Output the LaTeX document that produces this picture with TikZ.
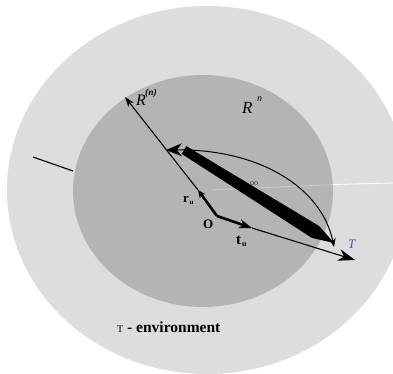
\documentclass[tikz,border=0pt]{standalone}
\usepackage{fontspec}
\setmainfont{Liberation Serif}
\usetikzlibrary{arrows.meta}
\definecolor{outerg}{RGB}{220,221,223}
\definecolor{innerg}{RGB}{179,180,182}
\definecolor{tblue}{RGB}{70,80,170}
\begin{document}
\begin{tikzpicture}[x=1pt,y=-1pt,
  lbl/.style={inner sep=0pt, anchor=base west},
  thinline/.style={line width=1.1pt, black},
  thickvec/.style={line width=2.6pt, black}]
\useasboundingbox (0,0) rectangle (393,373);
\begin{scope}
  \clip (0,0) rectangle (393,373);
  \fill[outerg] (207,190) ellipse [x radius=200, y radius=184];
\end{scope}
\fill[innerg] (203,191) ellipse [x radius=130, y radius=116];
% faint white line
\coordinate (W0) at (213,190);
\coordinate (W1) at (333,184.5);
\coordinate (W2) at (393,183);
\draw[white, line width=0.7pt, opacity=0.35] (W0) -- (W1);
\draw[white, line width=0.8pt] (W1) -- (W2);
% points
\coordinate (O) at (217,216);
\coordinate (ru) at (198,190);
\coordinate (Rn) at (125,97);
\coordinate (tu) at (252,228);
\coordinate (T) at (355,260);
\coordinate (L1) at (33,157);
\coordinate (L2) at (73,171);
\coordinate (A) at (166,150);
\coordinate (B) at (334,247);
% left line
\draw[line width=1.1pt] (L1) -- (L2);
% r_u and R^(n)
\draw[thinline, -{Stealth[length=10pt,width=7pt]}] (ru) -- (Rn);
\draw[thickvec, -{Stealth[length=8pt,width=7pt]}] (O) -- (ru);
% t_u and T
\draw[thinline, -{Stealth[length=17pt,width=12pt]}] (tu) -- (T);
\draw[thickvec, -{Stealth[length=13pt,width=9pt]}] (O) -- (tu);
% thick band
\fill[black] (181.6,153.8) -- (186.4,146.2) -- (319.3,226.1) -- (334,243) -- (311.9,237.9) -- cycle;
% arc
\draw[line width=1pt, {Stealth[length=16pt,width=13pt]}-{Stealth[length=9pt,width=7pt]}] (A) .. controls (260,149) and (322,188) .. (B);
% labels
\node[lbl, font=\fontsize{16}{16}\selectfont\itshape] (lRn) at (136,105) {R};
\node[lbl, font=\fontsize{9.5}{9.5}\selectfont\itshape\bfseries] (lRnsup) at (145,95) {(n)};
\node[lbl, font=\fontsize{17}{17}\selectfont\itshape] (lRN) at (242,113) {R};
\node[lbl, font=\fontsize{10}{10}\selectfont\itshape] (lRNsup) at (257,101) {n};
\node[lbl, font=\fontsize{13}{13}\selectfont\bfseries] (lO) at (203,228) {O};
\node[lbl, font=\fontsize{13}{13}\selectfont\bfseries] (lr) at (183,202) {r};
\node[lbl, font=\fontsize{7}{7}\selectfont\bfseries] (lru) at (189.5,204) {u};
\node[lbl, font=\fontsize{15}{15}\selectfont\bfseries] (lt) at (236,244) {t};
\node[lbl, font=\fontsize{8}{8}\selectfont\bfseries] (ltu) at (242,246) {u};
\node[lbl, font=\fontsize{13}{13}\selectfont\itshape, text=tblue] (lT) at (348,248) {T};
\node[lbl, font=\fontsize{8}{8}\selectfont, text=black!80] (loo) at (250,185) {oo};
\node[lbl, font=\fontsize{10}{10}\selectfont] (lTenv) at (117,332) {T};
\node[lbl, font=\fontsize{15.5}{15.5}\selectfont\bfseries] (lenv) at (127,332) {- environment};
\end{tikzpicture}
\end{document}
